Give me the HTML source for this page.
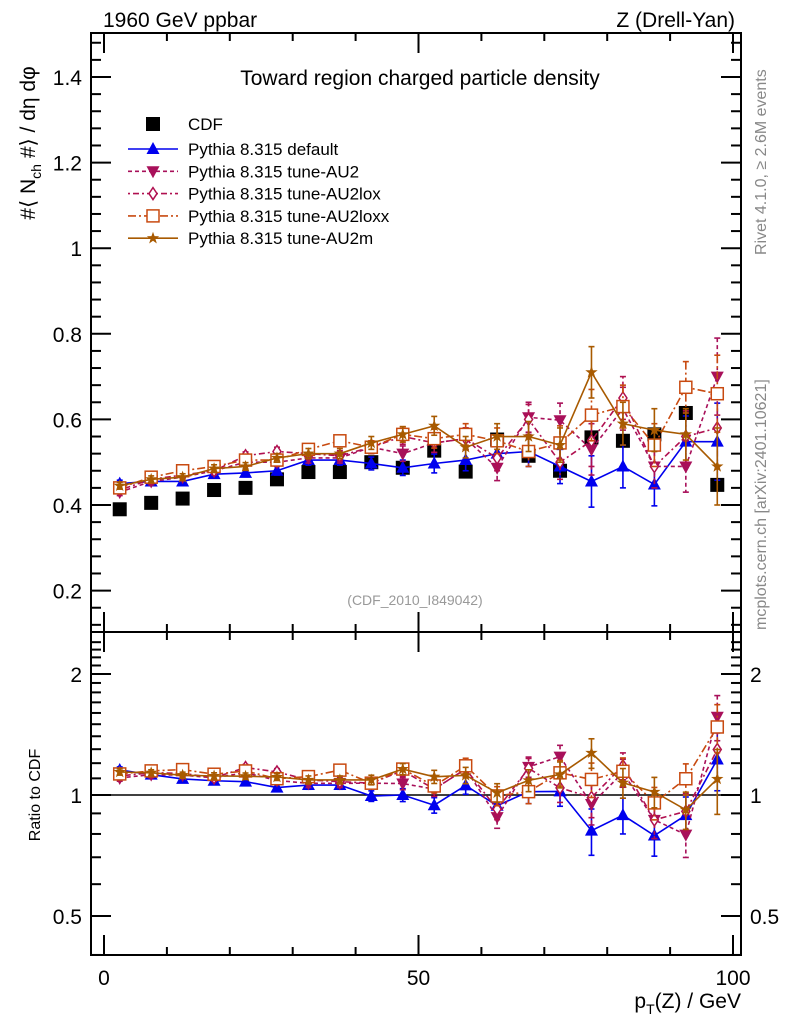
<!DOCTYPE html>
<html><head><meta charset="utf-8"><style>
html,body{margin:0;padding:0;background:#fff;}
svg{display:block;font-family:"Liberation Sans",sans-serif;}
</style></head><body>
<svg id="c" width="786" height="1024" viewBox="0 0 786 1024"></svg>
<script>
const pts=[2.5,7.5,12.5,17.5,22.5,27.5,32.5,37.5,42.5,47.5,52.5,57.5,62.5,67.5,72.5,77.5,82.5,87.5,92.5,97.5];
const cdf=[0.39,0.405,0.415,0.435,0.44,0.46,0.477,0.477,0.5,0.487,0.527,0.478,0.553,0.515,0.48,0.558,0.55,0.565,0.615,0.447];
const vDefault=[0.45,0.455,0.455,0.472,0.475,0.48,0.505,0.505,0.497,0.487,0.497,0.505,0.52,0.525,0.49,0.455,0.49,0.448,0.548,0.548];
const vAU2=[0.43,0.455,0.465,0.48,0.5,0.5,0.51,0.51,0.535,0.52,0.545,0.555,0.487,0.605,0.598,0.53,0.625,0.49,0.49,0.7];
const vAU2lox=[0.435,0.46,0.47,0.48,0.515,0.525,0.52,0.515,0.535,0.56,0.545,0.555,0.51,0.6,0.5,0.55,0.65,0.49,0.56,0.58];
const vAU2loxx=[0.44,0.465,0.48,0.49,0.505,0.505,0.53,0.55,0.535,0.565,0.555,0.565,0.55,0.525,0.545,0.61,0.63,0.54,0.675,0.66];
const vAU2m=[0.445,0.46,0.465,0.485,0.49,0.51,0.52,0.52,0.545,0.565,0.585,0.535,0.56,0.56,0.54,0.71,0.59,0.575,0.565,0.49];
const errs=[0.008,0.008,0.008,0.009,0.009,0.01,0.012,0.012,0.015,0.018,0.022,0.025,0.03,0.035,0.04,0.06,0.05,0.05,0.06,0.09];
const mainTicks=[0.2,0.4,0.6,0.8,1,1.2,1.4];
const ratioTicks=[0.5,1,2];
const xTicks=[0,50,100];

const NS="http://www.w3.org/2000/svg";
const svg=document.getElementById('c');
const L=91,R=741,T=33,MB=632,RB=955;
const X=v=>104+v*6.29;
const Y=v=>505-(v-0.4)*428;
const YR=v=>795-Math.log2(v)*121;
function el(t,a,p){const e=document.createElementNS(NS,t);for(const k in a)e.setAttribute(k,a[k]);(p||svg).appendChild(e);return e;}
function txt(s,x,y,a,p){const e=el('text',Object.assign({x:x,y:y,'font-size':20,fill:'#000'},a||{}),p);e.textContent=s;return e;}

const f1=el('rect',{x:L,y:T,width:R-L,height:MB-T,fill:'none',stroke:'#000','stroke-width':2});

const f2=el('rect',{x:L,y:MB,width:R-L,height:RB-MB,fill:'none',stroke:'#000','stroke-width':2});


for(let v=0;v<=100;v+=10){
  const big=v%50===0, len=big?20:8, x=X(v);
  for(const [y0,d] of [[MB,-1],[T,1],[RB,-1],[MB,1]]) el('line',{x1:x,x2:x,y1:y0,y2:y0+d*len,stroke:'#000','stroke-width':2});
}
xTicks.forEach(v=>{const t=txt(String(v),X(v),985,{'text-anchor':'middle','font-size':21});
});
for(let v=0.12;v<1.5;v+=0.04){
  const vv=Math.round(v*100)/100;const big=Math.abs(vv*10-Math.round(vv*10))<1e-6&&Math.round(vv*10)%2===0;
  const len=big?20:10;
  el('line',{x1:L,x2:L+len,y1:Y(vv),y2:Y(vv),stroke:'#000','stroke-width':2});
  el('line',{x1:R,x2:R-len,y1:Y(vv),y2:Y(vv),stroke:'#000','stroke-width':2});
}
mainTicks.forEach(v=>{const t=txt(String(v),82,Y(v)+8,{'text-anchor':'end','font-size':21});
});
for(let v=0.4;v<=2.5;v+=0.1){
  const vv=Math.round(v*10)/10;const big=(vv===0.5||vv===1||vv===2);const len=big?20:10;
  el('line',{x1:L,x2:L+len,y1:YR(vv),y2:YR(vv),stroke:'#000','stroke-width':2});
  el('line',{x1:R,x2:R-len,y1:YR(vv),y2:YR(vv),stroke:'#000','stroke-width':2});
}
ratioTicks.forEach(v=>{
  const a=txt(String(v),82,YR(v)+8,{'text-anchor':'end','font-size':21});
  
  const b=txt(String(v),750,YR(v)+8,{'font-size':21});
  
});
el('line',{x1:L,x2:R,y1:YR(1),y2:YR(1),stroke:'#000','stroke-width':1.5});

function marker(kind,x,y,c,p){
  if(kind==='sq') return el('rect',{x:x-7,y:y-7,width:14,height:14,fill:'#000'},p);
  if(kind==='tri') return el('polygon',{points:`${x},${y-7} ${x-6.5},${y+5} ${x+6.5},${y+5}`,fill:c},p);
  if(kind==='dtri') return el('polygon',{points:`${x},${y+7} ${x-6.5},${y-5} ${x+6.5},${y-5}`,fill:c},p);
  if(kind==='dia') return el('polygon',{points:`${x},${y-6} ${x-4},${y} ${x},${y+6} ${x+4},${y}`,fill:'#fff',stroke:c,'stroke-width':1.5},p);
  if(kind==='osq') return el('rect',{x:x-6,y:y-6,width:12,height:12,fill:'#fff',stroke:c,'stroke-width':1.5},p);
  if(kind==='star'){let s='';for(let i=0;i<10;i++){const r=i%2?2.6:6.5,a=-Math.PI/2+i*Math.PI/5;s+=(x+r*Math.cos(a))+','+(y+r*Math.sin(a))+' ';}
    return el('polygon',{points:s,fill:c},p);}
}
const series=[
 {name:'Pythia 8.315 default',v:vDefault,c:'#0000ee',d:'',m:'tri',id:'default'},
 {name:'Pythia 8.315 tune-AU2',v:vAU2,c:'#a8105a',d:'4,3',m:'dtri',id:'au2'},
 {name:'Pythia 8.315 tune-AU2lox',v:vAU2lox,c:'#b01050',d:'2,3,6,3',m:'dia',id:'au2lox'},
 {name:'Pythia 8.315 tune-AU2loxx',v:vAU2loxx,c:'#c84a10',d:'8,3,2,3',m:'osq',id:'au2loxx'},
 {name:'Pythia 8.315 tune-AU2m',v:vAU2m,c:'#a85a00',d:'',m:'star',id:'au2m'}
];
function drawSeries(s,Yf,ratio){
  const g=el('g',{});
  
  
  const vals=s.v.map((v,i)=>ratio?v/cdf[i]:v);
  const e=s.v.map((v,i)=>ratio?errs[i]/cdf[i]:errs[i]);
  el('polyline',{points:pts.map((p,i)=>X(p)+','+Yf(vals[i])).join(' '),fill:'none',stroke:s.c,'stroke-width':1.6,'stroke-dasharray':s.d},g);
  pts.forEach((p,i)=>{
    const x=X(p),y1=Yf(vals[i]+e[i]),y2=Yf(Math.max(vals[i]-e[i],0.01));
    el('line',{x1:x,x2:x,y1:y1,y2:y2,stroke:s.c,'stroke-width':1.6,'stroke-dasharray':s.d},g);
    el('line',{x1:x-3,x2:x+3,y1:y1,y2:y1,stroke:s.c,'stroke-width':1.6},g);
    el('line',{x1:x-3,x2:x+3,y1:y2,y2:y2,stroke:s.c,'stroke-width':1.6},g);
    marker(s.m,x,Yf(vals[i]),s.c,g);
  });
}
const gc=el('g',{});

pts.forEach((p,i)=>marker('sq',X(p),Y(cdf[i]),'#000',gc));
series.forEach(s=>drawSeries(s,Y,false));
series.forEach(s=>drawSeries(s,YR,true));

const lg=el('g',{});
let ly=124;
const e0=el('g',{},lg);
marker('sq',153,ly,'#000',e0);txt('CDF',188,ly+6,{'font-size':17},e0);
series.forEach((s,i)=>{
  const y=149+i*22.3;
  const g=el('g',{},lg);
  el('line',{x1:128,x2:178,y1:y,y2:y,stroke:s.c,'stroke-width':1.6,'stroke-dasharray':s.d},g);
  marker(s.m,153,y,s.c,g);
  txt(s.name,188,y+6,{'font-size':17},g);
});

let t;
t=txt('1960 GeV ppbar',103,27,{'font-size':21});
t=txt('Z (Drell-Yan)',735,27,{'font-size':21,'text-anchor':'end'});
t=txt('Toward region charged particle density',420,85,{'font-size':21,'text-anchor':'middle'});
t=txt('(CDF_2010_I849042)',415,605,{'font-size':14,'text-anchor':'middle',fill:'#999'});
t=txt('Rivet 4.1.0, \u2265 2.6M events',0,0,{'font-size':16,fill:'#888',transform:'translate(766,255) rotate(-90)'});
t=txt('mcplots.cern.ch [arXiv:2401.10621]',0,0,{'font-size':16,fill:'#888',transform:'translate(766,630) rotate(-90)'});
t=txt('',0,0,{'font-size':21,'text-anchor':'middle',transform:'translate(35,143) rotate(-90)'});
t.innerHTML='#\u27e8 N<tspan font-size="14" dy="6">ch</tspan><tspan dy="-6"> #\u27e9 / d\u03b7 d\u03c6</tspan>';

t=txt('Ratio to CDF',0,0,{'font-size':16,transform:'translate(40,795) rotate(-90)','text-anchor':'middle'});
t=txt('',741,1008,{'font-size':21,'text-anchor':'end'});
t.innerHTML='p<tspan font-size="14" dy="6">T</tspan><tspan dy="-6">(Z) / GeV</tspan>';

</script>
</body></html>
